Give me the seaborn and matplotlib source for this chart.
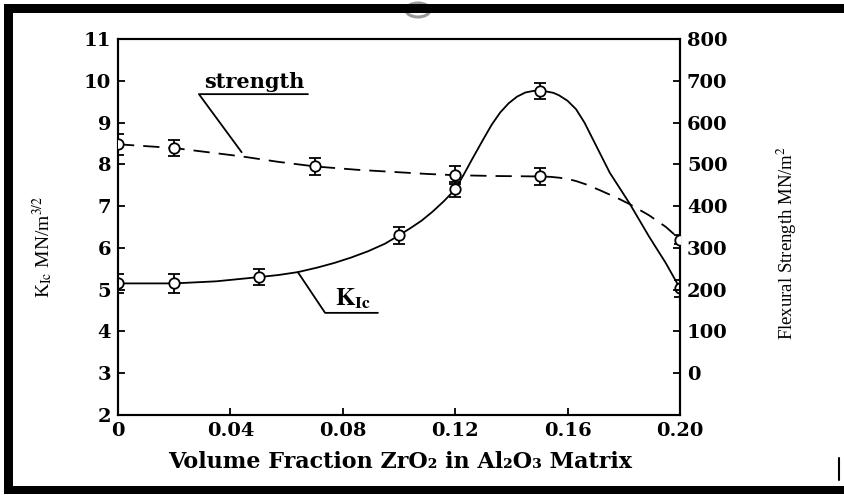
import matplotlib
matplotlib.use("Agg")
import matplotlib.pyplot as plt
import seaborn as sns
from matplotlib.patches import Rectangle, Ellipse
from matplotlib.lines import Line2D

# measured points (circles with error bars)
k_x = [0, 0.02, 0.05, 0.10, 0.12, 0.15, 0.20]
k_vals = [5.15, 5.15, 5.3, 6.3, 7.4, 9.75, 5.03]
k_err = [0.22, 0.22, 0.2, 0.2, 0.17, 0.19, 0.2]

s_x = [0, 0.02, 0.07, 0.12, 0.15, 0.20]
s_vals = [548, 539, 495, 474, 471, 320]
s_err = [25, 20, 20, 22, 20, 10]

# hand-drawn curves
k_curve_x = [0, 0.02, 0.035, 0.05, 0.057, 0.064, 0.071, 0.077, 0.083, 0.089, 0.095,
             0.10, 0.104, 0.108, 0.112, 0.116, 0.12, 0.123, 0.126, 0.130, 0.133,
             0.136, 0.139, 0.142, 0.145, 0.148, 0.150, 0.152, 0.155, 0.157, 0.160,
             0.163, 0.166, 0.169, 0.175, 0.182, 0.189, 0.195, 0.20]
k_curve_y = [5.15, 5.15, 5.2, 5.3, 5.35, 5.42, 5.53, 5.64, 5.77, 5.92, 6.1,
             6.3, 6.47, 6.65, 6.87, 7.12, 7.4, 7.75, 8.12, 8.6, 8.95,
             9.24, 9.46, 9.62, 9.72, 9.76, 9.76, 9.75, 9.71, 9.65, 9.52,
             9.32, 9.0, 8.6, 7.8, 7.07, 6.27, 5.63, 5.03]
s_curve_x = [0, 0.02, 0.032, 0.044, 0.057, 0.07, 0.085, 0.10, 0.11, 0.12, 0.135,
             0.15, 0.154, 0.157, 0.160, 0.163, 0.167, 0.1715, 0.1775, 0.182, 0.189,
             0.195, 0.20]
s_curve_y = [548, 539, 529, 519, 506, 495, 487, 481, 477, 474, 472,
             471, 470, 468, 465, 460, 451, 438, 420, 405, 378,
             350, 320]

x_ticks = [0, 0.04, 0.08, 0.12, 0.16, 0.20]
x_ticklabels = ["0", "0.04", "0.08", "0.12", "0.16", "0.20"]
left_ticks = list(range(2, 12))
right_ticks = list(range(0, 900, 100))

sns.set_theme(style="ticks")
plt.rcParams["font.family"] = ["DejaVu Serif"]
plt.rcParams["mathtext.fontset"] = "stix"
plt.rcParams["text.color"] = "black"
plt.rcParams["axes.labelcolor"] = "black"
plt.rcParams["xtick.color"] = "black"
plt.rcParams["ytick.color"] = "black"

fig = plt.figure(figsize=(8.44, 4.95), dpi=100)
ax = fig.add_axes([118 / 844, 1 - 415 / 495, 562 / 844, 376 / 495])
ax2 = ax.twinx()

# K_Ic curve (solid)
sns.lineplot(x=k_curve_x, y=k_curve_y, ax=ax, color="black", lw=1.3,
             sort=False, estimator=None)
ax.errorbar(k_x, k_vals, yerr=k_err, fmt="o", ms=7.5, mfc="white", mec="black",
            mew=1.3, ecolor="black", elinewidth=1.3, capsize=4, zorder=5)

# strength curve (dashed)
sns.lineplot(x=s_curve_x, y=s_curve_y, ax=ax2, color="black", lw=1.3,
             sort=False, estimator=None)
ax2.lines[-1].set_dashes([9, 5])
ax2.errorbar(s_x, s_vals, yerr=s_err, fmt="o", ms=7.5, mfc="white", mec="black",
             mew=1.3, ecolor="black", elinewidth=1.3, capsize=4, zorder=5)

ax.set_xlim(0, 0.20)
ax.set_ylim(2, 11)
ax2.set_ylim(-100, 800)
ax.set_xticks(x_ticks)
ax.set_xticklabels(x_ticklabels)
ax.set_yticks(left_ticks)
ax2.set_yticks(right_ticks)

for a in (ax, ax2):
    for sp in a.spines.values():
        sp.set_visible(True)
        sp.set_linewidth(1.5)
        sp.set_color("black")
ax.tick_params(axis="both", direction="in", length=5, width=1.3, color="black",
               labelcolor="black", labelsize=14, pad=5)
ax2.tick_params(axis="y", direction="in", length=5, width=1.3, color="black",
                labelcolor="black", labelsize=14, pad=5)
for lab in ax.get_xticklabels() + ax.get_yticklabels() + ax2.get_yticklabels():
    lab.set_fontweight("bold")

ax.set_xlabel("Volume Fraction ZrO\u2082 in Al\u2082O\u2083 Matrix",
              fontsize=16, fontweight="bold", color="black")
ax.xaxis.set_label_coords(0.502, -0.095)
ax.set_ylabel(r"K$_{\rm Ic}$ MN/m$^{3/2}$", fontsize=14, family="Liberation Serif",
              color="black")
ax.yaxis.set_label_coords(-0.112, 0.447)
ax2.set_ylabel(r"Flexural Strength MN/m$^2$", fontsize=13.5, family="Liberation Serif",
               color="black")
ax2.yaxis.set_label_coords(1.169, 0.457)

# leader lines and labels
ax.add_line(Line2D([0.044, 0.0288, 0.0676], [8.29, 9.68, 9.68], color="black", lw=1.3))
ax.text(0.0485, 9.74, "strength", fontsize=15, fontweight="bold", ha="center",
        va="bottom", color="black")
ax.add_line(Line2D([0.064, 0.0737, 0.0925], [5.42, 4.445, 4.445], color="black", lw=1.3))
ax.text(0.0835, 4.5, r"$\mathbf{K_{Ic}}$", fontsize=18, ha="center", va="bottom",
        color="black")

# outer frame like the scanned figure
frame = dict(transform=fig.transFigure, color="black", lw=0, zorder=10)
fig.patches.append(Ellipse((418 / 844, 1 - 10 / 495), 24 / 844, 14 / 495,
                           transform=fig.transFigure, fill=False, ec="0.6",
                           lw=2.2, zorder=9))
fig.patches.append(Rectangle((4 / 844, 1 - 13 / 495), 840 / 844, 9 / 495, **frame))
fig.patches.append(Rectangle((4 / 844, 1 - 494 / 495), 9 / 844, 490 / 495, **frame))
fig.patches.append(Rectangle((4 / 844, 1 - 494 / 495), 840 / 844, 8 / 495, **frame))
fig.lines.append(Line2D([839 / 844, 839 / 844], [1 - 458 / 495, 1 - 480 / 495],
                        transform=fig.transFigure, color="black", lw=1.5))

fig.savefig("out.png", dpi=100, facecolor="white")
